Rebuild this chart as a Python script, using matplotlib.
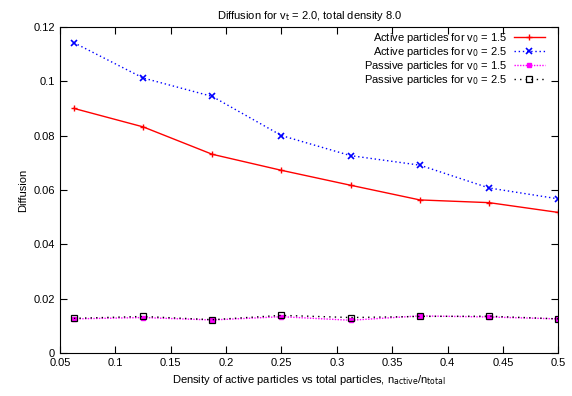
import numpy as np
import matplotlib
matplotlib.use("Agg")
import matplotlib.pyplot as plt

plt.rcParams['font.family'] = ['Liberation Sans', 'DejaVu Sans']
plt.rcParams['font.size'] = 8

x = [0.0625, 0.125, 0.1875, 0.25, 0.3125, 0.375, 0.4375, 0.5]
active_15 = [0.0900, 0.0832, 0.0731, 0.0672, 0.0617, 0.0563, 0.0553, 0.0517]
active_25 = [0.1142, 0.1012, 0.0944, 0.0800, 0.0726, 0.0691, 0.0607, 0.0567]
passive_15 = [0.0125, 0.0130, 0.0121, 0.0133, 0.0120, 0.0136, 0.0132, 0.0125]
passive_25 = [0.0127, 0.0134, 0.0122, 0.0138, 0.0130, 0.0134, 0.0135, 0.0125]

xticks = [0.05, 0.1, 0.15, 0.2, 0.25, 0.3, 0.35, 0.4, 0.45, 0.5]
yticks = [0, 0.02, 0.04, 0.06, 0.08, 0.1, 0.12]

fig = plt.figure(figsize=(5.72, 3.96), dpi=100)
ax = fig.add_axes([0.105, 0.109, 0.871, 0.823])

ax.plot(x, active_15, color='red', ls='-', lw=1, marker='+', ms=5, mew=1,
        label=r'Active particles for v$_0$ = 1.5')
ax.plot(x, active_25, color='blue', ls=(0, (1, 2)), lw=1, marker='x', ms=4, mew=1.2,
        label=r'Active particles for v$_0$ = 2.5')
ax.plot(x, passive_15, color='magenta', ls=(0, (1, 1)), lw=1, marker='s', ms=3, mew=1,
        label=r'Passive particles for v$_0$ = 1.5')
ax.plot(x, passive_25, color='black', ls=(0, (1, 3)), lw=1, marker='s', ms=4.5, mew=0.9,
        mfc='none', label=r'Passive particles for v$_0$ = 2.5')

ax.set_xlim(0.05, 0.5)
ax.set_ylim(0, 0.12)
ax.set_xticks(xticks)
ax.set_xticklabels([('%g' % t) for t in xticks])
ax.set_yticks(yticks)
ax.set_yticklabels([('%g' % t) for t in yticks])
ax.tick_params(direction='in', top=True, right=True, length=5)

ax.set_title(r'Diffusion for v$_{\rm t}$ = 2.0, total density 8.0', fontsize=8, pad=6)
ax.set_xlabel(r'Density of active particles vs total particles, n$_{\rm active}$/n$_{\rm total}$')
ax.set_ylabel('Diffusion')

leg = ax.legend(loc='upper right', bbox_to_anchor=(0.982, 1.0), markerfirst=False,
                frameon=False, fontsize=8,
                handlelength=2.8, handletextpad=0.6, labelspacing=0.0,
                borderaxespad=0.1, borderpad=0.3)
for t in leg.get_texts():
    t.set_ha('right')

fig.savefig('out.png', dpi=100)
